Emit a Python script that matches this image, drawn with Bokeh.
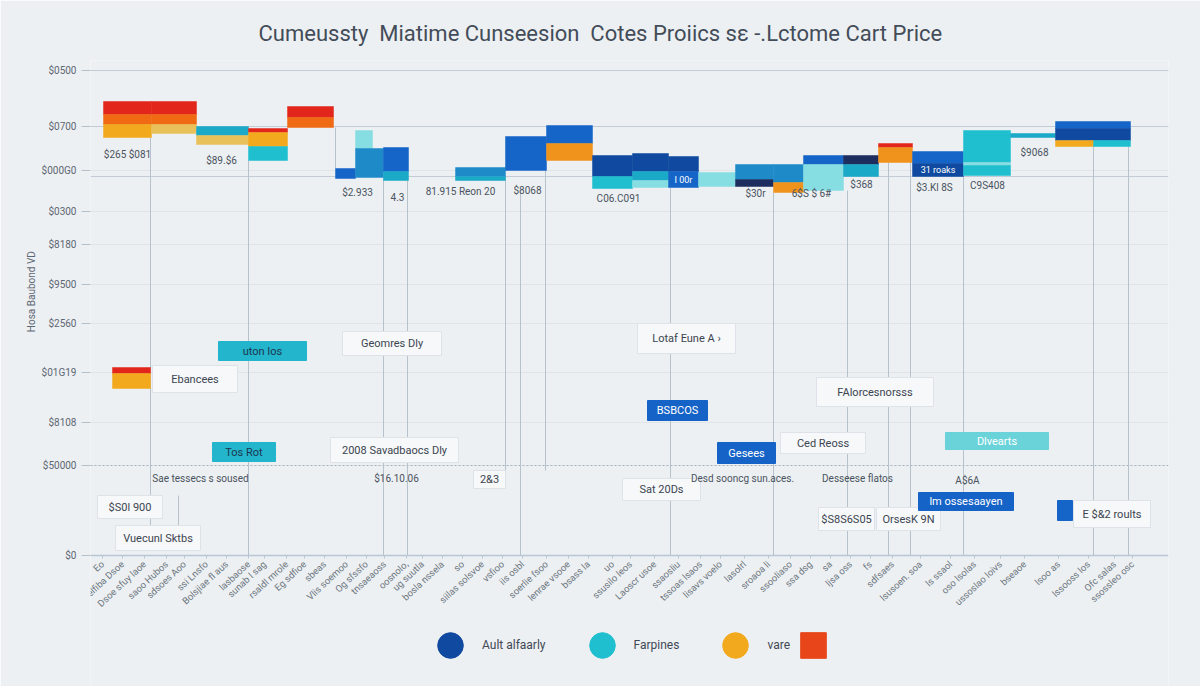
from bokeh.plotting import figure
from bokeh.models import FixedTicker, Range1d, Legend, LegendItem, Grid, ColumnDataSource
from bokeh.core.properties import value
from bokeh.embed import file_html
from bokeh.resources import INLINE

FONT = "Roboto"
BG = "#edf0f2"
NB = "\u00a0"

title_text = ("Cumeussty" + NB * 2 + "Miatime Cunseesion" + NB * 2 +
              "Cotes Proiics sε -.Lctome Cart Price")
y_title = "Hosa Baubond VD"

# ---- y axis -------------------------------------------------------------
y_ticks = [970, 858, 770, 688, 622, 542, 464, 366, 266, 180, 0]
y_tick_labels = ["$0500", "$0700", "$000G0", "$0300", "$8180", "$9500",
                 "$2560", "$01G19", "$8108", "$50000", "$0"]
y_solid_grid = [970, 858, 758]
y_dotted_grid = [180]

# ---- x axis -------------------------------------------------------------
x_ticks = [1.2, 3.2, 5.4, 7.6, 9.4, 11.6, 13.6, 15.8, 17.4, 19.6, 21.4, 23.4,
           25.6, 27.6, 29.4, 31.6, 33.2, 35.2, 37.2, 39.2, 41.2, 43.2, 45.6,
           47.8, 49.8, 52.2, 54.0, 56.4, 58.8, 61.0, 63.0, 65.4, 67.8, 70.0,
           72.0, 74.0, 76.0, 78.0, 80.2, 83.0, 86.0, 88.4, 91.0, 93.4, 96.8,
           99.8, 102.4, 104.2]
x_tick_labels = ["Eo", "velfiba Dsoe", "Dsoe sfuy laoe", "saoo Hubos", "sdsoes Aoo",
                 "ssi Lnsfo", "Bolsjiae fl aus", "lasbaose", "sunab l sag",
                 "rsaldl mrole", "Eg sdfioe", "sbeas", "Vlis soemoo",
                 "Og sfssfo", "tnsaeaoss", "oosnolo,", "ug suutla",
                 "bosla nssela", "so", "siilas solsvoe", "vsfioo", "iis osbl",
                 "soerlie fsoo", "lenrae vsooe", "bsass la", "uo",
                 "ssusilo leos", "Laoscr usoe", "ssaosliu", "tssoas lsaos",
                 "lisavs voelo", "lasolrl", "sroaoa li", "ssooliaso",
                 "ssa dsg", "sa", "ljsa oss", "fs", "sdfsaes",
                 "lsusoen. soa", "ls ssaol", "oso lsolas", "ussoslao loivs",
                 "bseaoe", "lsoo as", "lssooss los", "Ofc salas",
                 "ssossleo osc"]

# ---- colours --------------------------------------------------------------
RED = "#e3261b"
ORANGE = "#ef6a12"
AMBER = "#f2a91e"
LAMBER = "#e9c15a"
ORANGE2 = "#f0931c"
TEAL = "#1ba9c8"
CYAN = "#1fbfd0"
LCYAN = "#86dde2"
BLUE = "#1565c8"
MBLUE = "#1e8ac8"
DBLUE = "#0f4aa0"
NAVY = "#1d2d5e"

# ---- floating stacked bar segments ------------------------------------------
seg_left = [1.3, 1.3, 1.3, 6.1, 6.1, 6.1, 10.6, 10.6, 15.8, 15.8, 15.8,
            19.7, 19.7, 24.5, 26.5, 26.5, 29.3, 29.3, 36.5, 36.5, 41.5,
            45.6, 45.6, 50.2, 50.2, 54.2, 54.2, 54.2, 57.8, 57.8, 60.8,
            64.5, 64.5, 68.3, 68.3, 71.3, 71.3, 75.3, 75.3, 78.8, 78.8,
            82.2, 82.2, 87.3, 87.3, 87.3, 92.0, 96.5, 96.5, 96.5, 100.3,
            2.2, 2.2]
seg_right = [6.1, 6.1, 6.1, 10.6, 10.6, 10.6, 15.8, 15.8, 19.7, 19.7, 19.7,
             24.3, 24.3, 26.5, 28.2, 29.3, 31.8, 31.8, 41.5, 41.5, 45.6,
             50.2, 50.2, 54.2, 54.2, 57.8, 57.8, 57.8, 60.8, 60.8, 64.5,
             68.3, 68.3, 71.3, 71.3, 75.3, 75.3, 78.8, 78.8, 82.2, 82.2,
             87.3, 87.3, 92.0, 92.0, 92.0, 96.5, 104.0, 104.0, 100.3, 104.0,
             6.0, 6.0]
seg_bottom = [882, 862, 836, 882, 862, 844, 840, 822, 846, 818, 790,
              876, 856, 754, 814, 756, 768, 750, 758, 750, 770,
              824, 790, 758, 734, 768, 750, 736, 768, 736, 738,
              752, 738, 746, 726, 782, 730, 782, 758, 816, 786,
              784, 758, 786, 780, 760, 836, 854, 830, 818, 818,
              364, 334]
seg_top = [908, 882, 862, 908, 882, 862, 858, 840, 854, 846, 818,
           898, 876, 774, 850, 814, 816, 768, 776, 758, 838,
           860, 824, 800, 758, 804, 768, 750, 798, 768, 766,
           782, 752, 782, 746, 800, 782, 800, 782, 824, 816,
           808, 784, 850, 786, 780, 844, 868, 854, 830, 830,
           376, 364]
seg_color = [RED, ORANGE, AMBER, RED, ORANGE, LAMBER, TEAL, LAMBER, RED, AMBER, CYAN,
             RED, ORANGE, BLUE, LCYAN, MBLUE, BLUE, TEAL, MBLUE, TEAL, BLUE,
             BLUE, ORANGE2, DBLUE, CYAN, DBLUE, TEAL, LCYAN, DBLUE, BLUE, LCYAN,
             MBLUE, NAVY, MBLUE, ORANGE2, BLUE, LCYAN, NAVY, TEAL, RED, ORANGE2,
             BLUE, DBLUE, CYAN, LCYAN, CYAN, TEAL, BLUE, DBLUE, AMBER, CYAN,
             RED, AMBER]

# ---- connector lines --------------------------------------------------------
conn_x = [6.0, 8.8, 15.8, 24.5, 29.3, 31.7, 41.5, 43.0, 45.5, 58.0, 68.3, 75.7,
          79.8, 82.0, 87.3, 100.3, 103.8]
conn_top = [836, 120, 790, 856, 754, 750, 758, 730, 790, 736, 726, 730,
            786, 786, 760, 818, 818]
conn_bottom = [60, 60, 0, 774, 0, 0, 170, 0, 170, 0, 0, 0, 0, 0, 0, 0, 0]

# ---- value labels -----------------------------------------------------------
val_x = [3.7, 13.1, 26.7, 30.7, 37.0, 43.7, 52.8, 66.5, 72.1, 77.1, 84.4,
         89.7, 94.4, 11.0, 30.6, 65.2, 76.7, 87.7]
val_y = [802, 790, 726, 718, 728, 730, 714, 724, 724, 742, 736,
         740, 806, 154, 154, 154, 154, 150]
val_text = ["$265 $081", "$89.$6", "$2.933", "4.3", "81.915 Reon 20", "$8068",
            "C06.C091", "$30r", "6$S $ 6#", "$368", "$3.Kl 8S", "C9S408",
            "$9068", "Sae tessecs s soused", "$16.10.06",
            "Desd sooncg sun.aces.", "Desseese flatos", "A$6A"]

inbar_x = [59.3, 84.75]
inbar_y = [752, 771]
inbar_text = ["I 00r", "31 roaks"]

# ---- annotation boxes ---------------------------------------------------------
box_left = [6.2, 25.2, 54.7, 72.6, 24.0, 69.0, 53.2, 0.7, 2.5, 78.6, 72.8,
            98.3, 38.3, 12.8, 12.2, 85.5, 55.7, 62.7, 82.8]
box_right = [14.7, 35.1, 64.5, 84.3, 36.8, 77.5, 61.0, 7.2, 11.0, 85.0, 78.4,
             106.0, 41.5, 21.6, 18.5, 95.8, 61.7, 68.5, 92.3]
box_bottom = [326, 400, 404, 298, 186, 204, 110, 74, 10, 50, 50,
              56, 134, 390, 188, 212, 270, 184, 90]
box_top = [380, 448, 464, 356, 236, 246, 154, 120, 60, 96, 96,
           110, 170, 428, 226, 246, 310, 226, 126]
box_text = ["Ebancees", "Geomres Dly", "Lotaf Eune A ›", "FAlorcesnorsss",
            "2008 Savadbaocs Dly", "Ced Reoss", "Sat 20Ds", "$S0l 900",
            "Vuecunl Sktbs", "OrsesK 9N", "$S8S6S05", "E $&2 roults", "2&3",
            "uton Ios", "Tos Rot", "Dlvearts", "BSBCOS", "Gesees", "lm ossesaayen"]
box_kind = ["white"] * 13 + ["cyan", "cyan", "lcyan", "blue", "blue", "blue"]

mark_left = [96.7]
mark_right = [98.2]
mark_bottom = [70]
mark_top = [110]

# ---- legend ---------------------------------------------------------------
legend_labels = ["Ault alfaarly", "Farpines", "vare"]
legend_colors = [DBLUE, CYAN, AMBER]
legend_extra_color = "#e8461a"

# ---------------------------------------------------------------------------
p = figure(width=1200, height=686, output_backend="svg", toolbar_location=None,
           x_range=Range1d(0, 107.8), y_range=Range1d(-262, 990),
           min_border_left=90, min_border_right=32, min_border_top=60,
           min_border_bottom=0)
p.background_fill_color = BG
p.border_fill_color = BG
p.outline_line_color = None

p.title.text = title_text
p.title.align = "left"
p.title.offset = 168
p.title.text_font = FONT
p.title.text_font_size = "22px"
p.title.text_font_style = "normal"
p.title.text_color = "#434c59"
p.title.standoff = 30

# y axis
p.yaxis.ticker = FixedTicker(ticks=y_ticks)
p.yaxis.major_label_overrides = {t: l for t, l in zip(y_ticks, y_tick_labels)}
p.yaxis.axis_line_color = None
p.yaxis.major_tick_in = 0
p.yaxis.major_tick_out = 9
p.yaxis.major_tick_line_color = "#b5c0ca"
p.yaxis.minor_tick_line_color = None
p.yaxis.major_label_text_font = FONT
p.yaxis.major_label_text_font_size = "10px"
p.yaxis.major_label_text_color = "#5d6773"
p.yaxis.major_label_standoff = 5
p.yaxis.axis_label = NB * 66 + y_title
p.yaxis.axis_label_text_font = FONT
p.yaxis.axis_label_text_font_size = "10px"
p.yaxis.axis_label_text_font_style = "normal"
p.yaxis.axis_label_text_color = "#5d6773"
p.yaxis.axis_label_standoff = 2

# x axis, drawn at the zero line inside the frame
p.xaxis.fixed_location = 0
p.xaxis.ticker = FixedTicker(ticks=x_ticks)
p.xaxis.major_label_overrides = {t: l for t, l in zip(x_ticks, x_tick_labels)}
p.xaxis.major_label_orientation = 0.75
p.xaxis.axis_line_color = "#b9c7d5"
p.xaxis.axis_line_width = 1.5
p.xaxis.major_tick_in = 0
p.xaxis.major_tick_out = 3
p.xaxis.major_tick_line_color = "#b9c7d5"
p.xaxis.minor_tick_line_color = None
p.xaxis.major_label_text_font = FONT
p.xaxis.major_label_text_font_size = "9.5px"
p.xaxis.major_label_text_color = "#6b7580"
p.xaxis.major_label_standoff = 4

# grids
p.xgrid.grid_line_color = None
p.ygrid.ticker = FixedTicker(ticks=y_ticks[:-1])
p.ygrid.grid_line_color = "#e0e5ea"
p.add_layout(Grid(dimension=1, ticker=FixedTicker(ticks=y_solid_grid),
                  grid_line_color="#c3ccd6", grid_line_width=1.2))
p.add_layout(Grid(dimension=1, ticker=FixedTicker(ticks=y_dotted_grid),
                  grid_line_color="#aab5c0", grid_line_width=1.2,
                  grid_line_dash="2 2"))

# connectors
p.segment(x0=conn_x, y0=conn_bottom, x1=conn_x, y1=conn_top,
          line_color="#b8c2cc", line_width=1)

# bars
bars = ColumnDataSource(dict(left=seg_left, right=seg_right, bottom=seg_bottom,
                             top=seg_top, color=seg_color))
p.quad(left="left", right="right", bottom="bottom", top="top", source=bars,
       fill_color="color", line_color="color", line_width=0.5)

# annotation boxes
fill_map = {"white": "#f6f8f9", "cyan": "#22b5cb", "lcyan": "#6ad3d9", "blue": "#1663c7"}
line_map = {"white": "#dde3e8", "cyan": "#22b5cb", "lcyan": "#6ad3d9", "blue": "#1663c7"}
text_map = {"white": "#3c4450", "cyan": "#1d3552", "lcyan": "#ffffff", "blue": "#ffffff"}
boxes = ColumnDataSource(dict(
    left=box_left, right=box_right, bottom=box_bottom, top=box_top,
    fill=[fill_map[k] for k in box_kind], line=[line_map[k] for k in box_kind],
    tcol=[text_map[k] for k in box_kind], text=box_text,
    cx=[(a + b) / 2 for a, b in zip(box_left, box_right)],
    cy=[(a + b) / 2 for a, b in zip(box_bottom, box_top)]))
p.quad(left="left", right="right", bottom="bottom", top="top", source=boxes,
       fill_color="fill", line_color="line", line_width=1)
p.text(x="cx", y="cy", text="text", source=boxes, text_color="tcol",
       text_font=value(FONT), text_font_size="11px", text_align="center",
       text_baseline="middle")
p.quad(left=mark_left, right=mark_right, bottom=mark_bottom, top=mark_top,
       fill_color=BLUE, line_color=BLUE)

# value labels
p.text(x=val_x, y=val_y, text=val_text, text_color="#4a5360",
       text_font=value(FONT), text_font_size="10px", text_align="center",
       text_baseline="middle")
p.text(x=inbar_x, y=inbar_y, text=inbar_text, text_color="#ffffff",
       text_font=value(FONT), text_font_size="9px", text_align="center",
       text_baseline="middle")

# legend (inside the frame, below the axis labels); its proxy renderers are hidden
items = []
for lab, col in zip(legend_labels, legend_colors):
    r = p.scatter(x=[x_ticks[0]], y=[y_ticks[-1]], marker="circle",
                  fill_color=col, line_color=col, visible=False)
    items.append(LegendItem(label=lab, renderers=[r]))
leg = Legend(items=items, location=(328, 9), orientation="horizontal",
             glyph_width=64, glyph_height=64, label_standoff=0, spacing=24,
             padding=0, margin=0, background_fill_alpha=0, border_line_color=None,
             label_text_font=FONT, label_text_font_size="12px",
             label_text_color="#3f4855", click_policy="none")
p.add_layout(leg)
r_sq = p.scatter(x=[x_ticks[0]], y=[y_ticks[-1]], marker="square",
                 fill_color=legend_extra_color, line_color=legend_extra_color,
                 visible=False)
leg2 = Legend(items=[LegendItem(label="", renderers=[r_sq])], location=(691, 9),
              glyph_width=64, glyph_height=64, padding=0, margin=0,
              background_fill_alpha=0, border_line_color=None, click_policy="none")
p.add_layout(leg2)

open("out.html", "w").write(file_html(p, INLINE))
